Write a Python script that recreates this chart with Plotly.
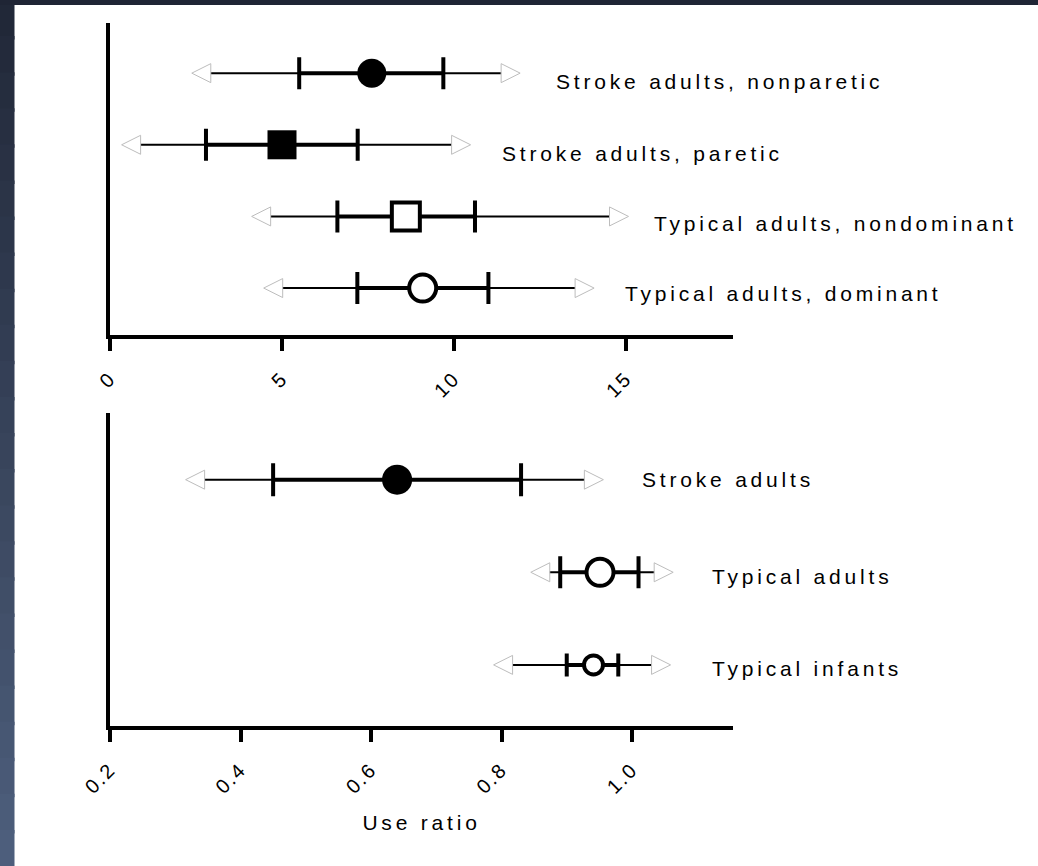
import plotly.graph_objects as go

W, H = 1038, 866
FONT = "Liberation Sans, Arial, Helvetica, sans-serif"

# ---- upper panel: amount of arm use ----
top_groups = ["Stroke adults, nonparetic", "Stroke adults, paretic",
              "Typical adults, nondominant", "Typical adults, dominant"]
top_rows = [4, 3, 2, 1]
top_outer_lo = [2.93, 0.89, 4.67, 5.02]
top_inner_lo = [5.50, 2.79, 6.61, 7.19]
top_center = [7.61, 5.00, 8.60, 9.09]
top_inner_hi = [9.69, 7.20, 10.61, 11.00]
top_outer_hi = [11.37, 9.93, 14.52, 13.52]
top_label_x = [12.91, 11.34, 15.75, 14.92]
top_ticks = [0, 5, 10, 15]

# ---- lower panel: use ratio ----
bot_groups = ["Stroke adults", "Typical adults", "Typical infants"]
bot_rows = [3, 2, 1]
bot_outer_lo = [0.345, 0.874, 0.817]
bot_inner_lo = [0.450, 0.890, 0.900]
bot_center = [0.640, 0.951, 0.941]
bot_inner_hi = [0.830, 1.010, 0.979]
bot_outer_hi = [0.927, 1.034, 1.030]
bot_label_x = [1.013, 1.120, 1.120]
bot_ticks = [0.2, 0.4, 0.6, 0.8, 1.0]
bot_ticktext = ["0.2", "0.4", "0.6", "0.8", "1.0"]
x_title = "Use ratio"

# ---- styling ----
top_style = [  # symbol, filled, size, cap half-height
    ("circle", True, 29, 16),
    ("square", True, 29, 16),
    ("square", False, 28, 16),
    ("circle", False, 27, 16),
]
bot_style = [
    ("circle", True, 30, 16.5),
    ("circle", False, 27, 16),
    ("circle", False, 19, 11.5),
]
top_label_shift = [-8, -9, -7, -5]
bot_label_shift = [0, -4, -4]

PX_L, PX_R = 110, 733
TOP_PX = (23, 335)
BOT_PX = (413, 726)
top_xrange = [0, 18.11]
top_yrange = [0.345, 4.70]
bot_xrange = [0.2, 1.1548]
bot_yrange = [0.34, 3.72]

ARROW_PX = 19
ARROW_COLOR = "#bdbdbd"


def ydomain(px):
    return [1 - px[1] / H, 1 - px[0] / H]


fig = go.Figure()


def add_panel(xa, ya, rows, olo, ilo, ctr, ihi, ohi, style, xrange_):
    # thin outer interval
    fig.add_trace(go.Scatter(
        x=ctr, y=rows, mode="markers", xaxis=xa, yaxis=ya,
        marker=dict(size=2, color="rgba(0,0,0,0)"),
        error_x=dict(type="data", symmetric=False,
                     array=[h - c for h, c in zip(ohi, ctr)],
                     arrayminus=[c - l for c, l in zip(ctr, olo)],
                     thickness=2, width=0, color="black"),
        hoverinfo="skip", showlegend=False))
    # open arrowheads beyond the outer interval
    ppu = (PX_R - PX_L) / (xrange_[1] - xrange_[0])
    fig.add_trace(go.Scatter(
        x=[v - ARROW_PX / ppu for v in olo], y=rows, mode="markers",
        xaxis=xa, yaxis=ya,
        marker=dict(symbol="arrow-left-open", size=ARROW_PX, color=ARROW_COLOR,
                    line=dict(width=1, color=ARROW_COLOR)),
        hoverinfo="skip", showlegend=False))
    fig.add_trace(go.Scatter(
        x=[v + ARROW_PX / ppu for v in ohi], y=rows, mode="markers",
        xaxis=xa, yaxis=ya,
        marker=dict(symbol="arrow-right-open", size=ARROW_PX, color=ARROW_COLOR,
                    line=dict(width=1, color=ARROW_COLOR)),
        hoverinfo="skip", showlegend=False))
    # thick inner interval with end bars and the central marker
    for i, (sym, filled, size, cap) in enumerate(style):
        fig.add_trace(go.Scatter(
            x=[ctr[i]], y=[rows[i]], mode="markers", xaxis=xa, yaxis=ya,
            marker=dict(symbol=sym, size=size,
                        color="black" if filled else "white",
                        line=dict(width=0 if filled else 4, color="black")),
            error_x=dict(type="data", symmetric=False,
                         array=[ihi[i] - ctr[i]], arrayminus=[ctr[i] - ilo[i]],
                         thickness=4, width=cap, color="black"),
            showlegend=False))


add_panel("x", "y", top_rows, top_outer_lo, top_inner_lo, top_center,
          top_inner_hi, top_outer_hi, top_style, top_xrange)
add_panel("x2", "y2", bot_rows, bot_outer_lo, bot_inner_lo, bot_center,
          bot_inner_hi, bot_outer_hi, bot_style, bot_xrange)

annotations = []
for name, lx, r, s in zip(top_groups, top_label_x, top_rows, top_label_shift):
    annotations.append(dict(x=lx, y=r, xref="x", yref="y", text=name,
                            showarrow=False, xanchor="left", yanchor="middle",
                            align="left", yshift=s,
                            font=dict(size=21, color="black", family=FONT)))
for name, lx, r, s in zip(bot_groups, bot_label_x, bot_rows, bot_label_shift):
    annotations.append(dict(x=lx, y=r, xref="x2", yref="y2", text=name,
                            showarrow=False, xanchor="left", yanchor="middle",
                            align="left", yshift=s,
                            font=dict(size=21, color="black", family=FONT)))

xaxis_common = dict(
    domain=[PX_L / W, PX_R / W], showgrid=False, zeroline=False,
    automargin=False,
    showline=True, linewidth=4, linecolor="black",
    ticks="outside", ticklen=12, tickwidth=4, tickcolor="black",
    tickangle=-45, ticklabelstandoff=8,
    tickfont=dict(size=20, color="black", family=FONT),
)
yaxis_common = dict(
    showgrid=False, zeroline=False, showline=True, linewidth=4,
    automargin=False,
    linecolor="black", ticks="", showticklabels=False,
)

# dark frame along the left and top edges
shapes = []
n_bands = 24
c0, c1 = (0x21, 0x28, 0x38), (0x4d, 0x5e, 0x7c)
for k in range(n_bands):
    t = k / (n_bands - 1)
    col = "rgb(%d,%d,%d)" % tuple(round(a + (b - a) * t) for a, b in zip(c0, c1))
    shapes.append(dict(type="rect", xref="paper", yref="paper", layer="below",
                       x0=-0.01, x1=14.5 / W,
                       y0=max(1 - (k + 1) / n_bands - 0.004, -0.01),
                       y1=1 - k / n_bands if k else 1.01,
                       fillcolor=col, line=dict(width=0)))
shapes.append(dict(type="rect", xref="paper", yref="paper", layer="below",
                   x0=-0.01, x1=1.01, y0=1 - 5 / H, y1=1.01, fillcolor="#1f2535",
                   line=dict(width=0)))

fig.update_layout(
    template="none",
    width=W, height=H, autosize=False,
    margin=dict(l=0, r=0, t=0, b=0, pad=0),
    paper_bgcolor="white", plot_bgcolor="white",
    font=dict(family=FONT, color="black"),
    xaxis=dict(xaxis_common, anchor="y", range=top_xrange,
               tickvals=top_ticks, ticktext=[str(v) for v in top_ticks]),
    yaxis=dict(yaxis_common, anchor="x", domain=ydomain(TOP_PX),
               range=top_yrange),
    xaxis2=dict(xaxis_common, anchor="y2", range=bot_xrange,
                tickvals=bot_ticks, ticktext=bot_ticktext,
                title=dict(text=x_title, standoff=24,
                           font=dict(size=21, color="black", family=FONT))),
    yaxis2=dict(yaxis_common, anchor="x2", domain=ydomain(BOT_PX),
                range=bot_yrange),
    annotations=annotations,
    shapes=shapes,
    showlegend=False,
)

# widely spaced lettering
css = ("svg text{letter-spacing:3.8px}"
       " .xtick text,.x2tick text{letter-spacing:2px}")
post = ("var s=document.createElement('style');s.textContent='%s';"
        "document.head.appendChild(s);" % css)

fig.write_html("out.html", post_script=post)
